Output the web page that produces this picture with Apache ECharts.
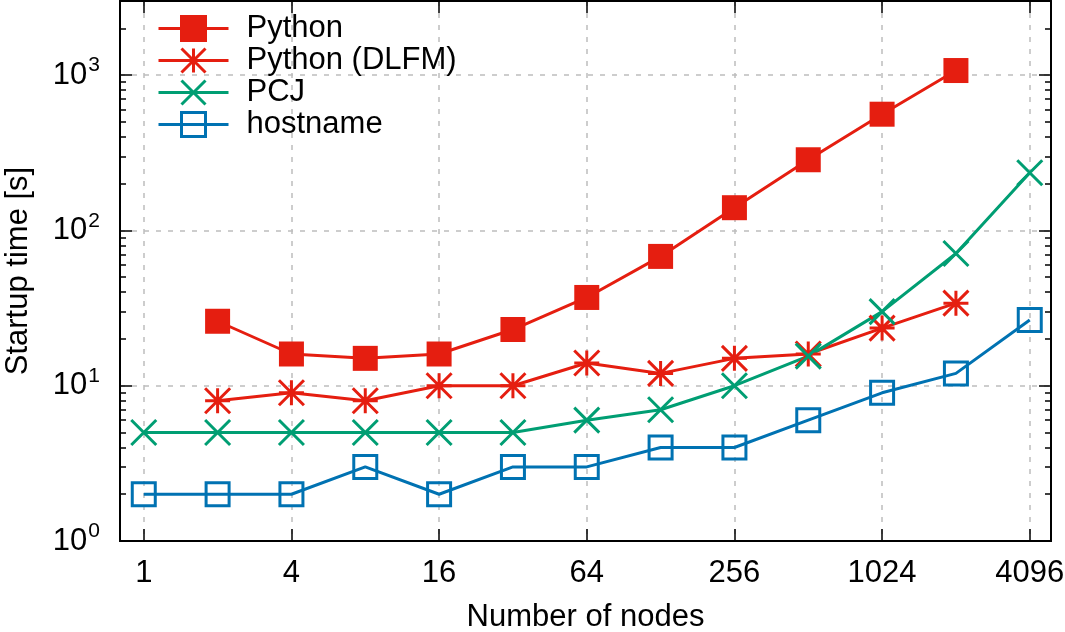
<!DOCTYPE html>
<html>
<head>
<meta charset="utf-8">
<script src="https://cdn.jsdelivr.net/npm/echarts@6/dist/echarts.min.js"></script>
<style>
  html, body { margin: 0; padding: 0; background: #fff; }
  #chart { width: 1065px; height: 632px; }
</style>
</head>
<body>
<div id="chart"></div>
<script>
// ---- data ----
const nodes = [1, 2, 4, 8, 16, 32, 64, 128, 256, 512, 1024, 2048, 4096];
const python     = [null, 26, 16, 15, 16, 23, 37, 68, 140, 285, 560, 1070, null];
const pythonDLFM = [null, 8, 9, 8, 10, 10, 14, 12, 15, 16, 23.5, 34, null];
const pcj        = [5, 5, 5, 5, 5, 5, 6, 7, 10, 15.5, 30, 71, 235];
const hostname   = [2, 2, 2, 3, 2, 3, 3, 4, 4, 6, 9, 12, 26.5];
const xTickLabels = [1, 4, 16, 64, 256, 1024, 4096];
const yMajorTicks = [1, 10, 100, 1000];
const yMinorTicks = [2,3,4,5,6,7,8,9,20,30,40,50,60,70,80,90,200,300,400,500,600,700,800,900,2000];

function pairs(vals) {
  const out = [];
  nodes.forEach((n, i) => { if (vals[i] !== null) out.push([n, vals[i]]); });
  return out;
}

const RED = '#e51e10', GREEN = '#009e73', BLUE = '#0072b2';
const FONT = 'Liberation Sans';
const FS = 31;

const chart = echarts.init(document.getElementById('chart'), null, { renderer: 'canvas' });

const xCommon = {
  type: 'log', logBase: 2, min: 0.8, max: 5000,
  axisLine: { show: true, lineStyle: { color: '#000', width: 2 } },
  axisTick: { show: true, inside: true, length: 12, customValues: xTickLabels, lineStyle: { color: '#000', width: 1.5 } },
};
const yCommon = {
  type: 'log', logBase: 10, min: 1, max: 3000,
  axisLine: { show: true, lineStyle: { color: '#000', width: 2 } },
};

const option = {
  animation: false,
  backgroundColor: '#fff',
  grid: { left: 120, right: 14, top: 1, bottom: 91, containLabel: false, outerBoundsMode: 'none' },
  legend: {
    orient: 'vertical', left: 157, top: 13, padding: 0,
    itemWidth: 70, itemHeight: 30, itemGap: 1,
    lineStyle: { width: 3 },
    itemStyle: { borderWidth: 3 },
    textStyle: { fontFamily: FONT, fontSize: FS, color: '#000', padding: [0, 0, 0, 13] },
    data: ['Python', 'Python (DLFM)', 'PCJ', 'hostname']
  },
  xAxis: [
    Object.assign({}, xCommon, {
      position: 'bottom',
      name: 'Number of nodes', nameLocation: 'middle', nameGap: 61,
      nameTextStyle: { fontFamily: FONT, fontSize: FS, color: '#000' },
      axisLabel: { show: true, customValues: xTickLabels, margin: 17, fontFamily: FONT, fontSize: FS, color: '#000',
        formatter: v => String(Math.round(v)) },
      splitLine: { show: true, lineStyle: { color: '#bdbdbd', width: 1.5, type: [5, 7] } }
    }),
    Object.assign({}, xCommon, {
      position: 'top',
      axisLabel: { show: false },
      splitLine: { show: false }
    })
  ],
  yAxis: [
    Object.assign({}, yCommon, {
      position: 'left',
      name: 'Startup time [s]', nameLocation: 'middle', nameGap: 86,
      nameTextStyle: { fontFamily: FONT, fontSize: FS, color: '#000' },
      axisTick: { show: true, inside: true, length: 12, customValues: yMajorTicks, lineStyle: { color: '#000', width: 1.5 } },
      axisLabel: { show: true, customValues: yMajorTicks, margin: 20, color: '#000',
        formatter: v => '{b|10}{s|' + Math.round(Math.log10(v)) + '}',
        rich: {
          b: { fontFamily: FONT, fontSize: FS, color: '#000' },
          s: { fontFamily: FONT, fontSize: 21, color: '#000', padding: [0, 0, 19, 1] }
        }
      },
      splitLine: { show: true, lineStyle: { color: '#bdbdbd', width: 1.5, type: [5, 7] } }
    }),
    Object.assign({}, yCommon, {
      position: 'right',
      axisTick: { show: true, inside: true, length: 12, customValues: yMajorTicks, lineStyle: { color: '#000', width: 1.5 } },
      axisLabel: { show: false }, splitLine: { show: false }
    }),
    Object.assign({}, yCommon, {
      position: 'left',
      axisTick: { show: true, inside: true, length: 6, customValues: yMinorTicks, lineStyle: { color: '#000', width: 1.5 } },
      axisLabel: { show: false }, splitLine: { show: false }
    }),
    Object.assign({}, yCommon, {
      position: 'right',
      axisTick: { show: true, inside: true, length: 6, customValues: yMinorTicks, lineStyle: { color: '#000', width: 1.5 } },
      axisLabel: { show: false }, splitLine: { show: false }
    })
  ],
  series: [
    {
      name: 'Python', type: 'line', data: pairs(python),
      symbol: 'rect', symbolSize: 25,
      itemStyle: { color: RED, borderColor: RED, borderWidth: 0 },
      lineStyle: { color: RED, width: 3 },
      emphasis: { disabled: true }
    },
    {
      name: 'Python (DLFM)', type: 'line', data: pairs(pythonDLFM),
      symbol: 'path://M5,0L5,10M0,5L10,5M0,0L10,10M10,0L0,10', symbolSize: 25,
      itemStyle: { color: 'rgba(0,0,0,0)', borderColor: RED, borderWidth: 3 },
      lineStyle: { color: RED, width: 3 },
      emphasis: { disabled: true }
    },
    {
      name: 'PCJ', type: 'line', data: pairs(pcj),
      symbol: 'path://M0,0L10,10M10,0L0,10', symbolSize: 25,
      itemStyle: { color: 'rgba(0,0,0,0)', borderColor: GREEN, borderWidth: 3 },
      lineStyle: { color: GREEN, width: 3 },
      emphasis: { disabled: true }
    },
    {
      name: 'hostname', type: 'line', data: pairs(hostname),
      symbol: 'rect', symbolSize: 23,
      itemStyle: { color: 'rgba(0,0,0,0)', borderColor: BLUE, borderWidth: 3 },
      lineStyle: { color: BLUE, width: 3 },
      emphasis: { disabled: true }
    }
  ]
};
chart.setOption(option);
</script>
</body>
</html>
